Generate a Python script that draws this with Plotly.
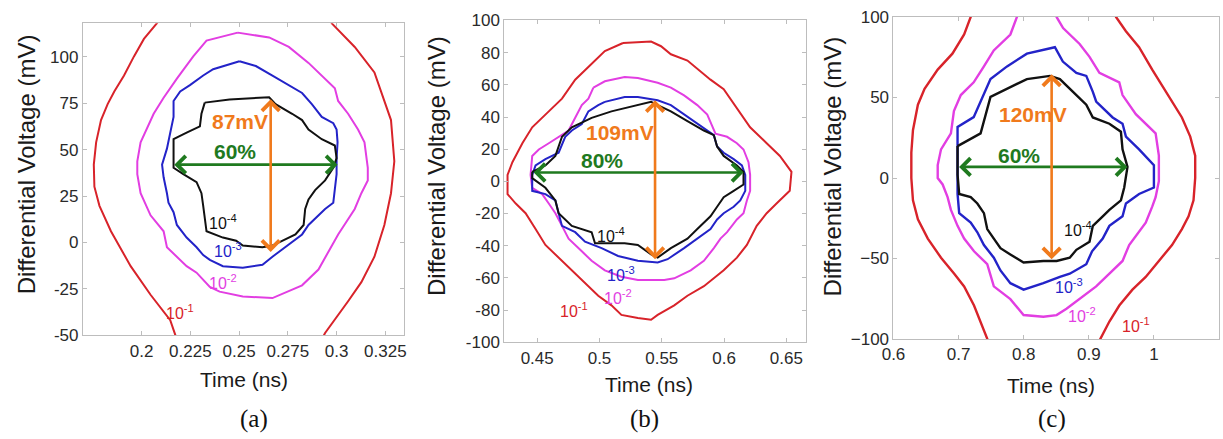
import plotly.graph_objects as go

# ---------------- data: panel (a) ----------------
A_RED_L_T = [0.2118, 0.2079, 0.2012, 0.1961, 0.1910, 0.1860, 0.1826, 0.1792, 0.1767, 0.1755, 0.1758, 0.1784, 0.1843, 0.1944, 0.2046, 0.2147, 0.2164, 0.2180]
A_RED_L_V = [124, 118.1, 109.6, 100.2, 89.9, 81.3, 74.5, 65.9, 53.9, 41.9, 30.0, 19.7, 6.0, -12.8, -28.2, -41.9, -47.1, -52]
A_RED_R_T = [0.2960, 0.2975, 0.3093, 0.3194, 0.3279, 0.3296, 0.3279, 0.3245, 0.3194, 0.3127, 0.3059, 0.2991, 0.2941, 0.2925]
A_RED_R_V = [124, 118.0, 105.3, 91.6, 65.9, 43.7, 26.5, 9.4, -7.7, -21.4, -31.7, -41.9, -48.8, -52]
A_MAG_T = [0.2493, 0.2654, 0.2755, 0.2856, 0.2991, 0.3008, 0.3059, 0.3110, 0.3143, 0.3160, 0.3160, 0.3127, 0.3093, 0.3008, 0.2907, 0.2823, 0.2671, 0.2519, 0.2400, 0.2350, 0.2282, 0.2231, 0.2130, 0.2113, 0.2046, 0.1995, 0.1978, 0.1978, 0.1995, 0.2062, 0.2113, 0.2181, 0.2265, 0.2333, 0.2493]
A_MAG_V = [113.0, 110.4, 105.3, 96.7, 83.0, 76.2, 69.3, 60.8, 53.9, 40.2, 33.4, 26.5, 18.0, 4.3, -14.6, -23.1, -30.0, -29.1, -26.5, -24.0, -16.3, -12.8, -2.6, 6.0, 14.6, 26.5, 36.8, 43.7, 53.9, 69.3, 77.9, 88.2, 100.2, 108.7, 113.0]
A_BLU_T = [0.2502, 0.2586, 0.2671, 0.2755, 0.2823, 0.2873, 0.2924, 0.2983, 0.3000, 0.3005, 0.3000, 0.3000, 0.2991, 0.2983, 0.2941, 0.2907, 0.2856, 0.2823, 0.2755, 0.2671, 0.2620, 0.2519, 0.2417, 0.2350, 0.2316, 0.2282, 0.2231, 0.2181, 0.2164, 0.2138, 0.2130, 0.2113, 0.2105, 0.2130, 0.2147, 0.2164, 0.2164, 0.2198, 0.2248, 0.2316, 0.2367, 0.2417, 0.2502]
A_BLU_V = [97.6, 95.0, 89.9, 84.7, 80.5, 74.5, 67.6, 64.2, 60.8, 53.9, 45.4, 36.8, 30.0, 21.4, 18.0, 14.6, 9.4, 4.3, -0.9, -7.7, -12.0, -13.7, -12.8, -9.4, -6.8, -2.6, 2.6, 9.4, 16.3, 21.4, 26.5, 35.1, 41.9, 50.5, 59.1, 67.6, 76.2, 81.3, 84.7, 89.9, 93.3, 95.0, 97.6]
A_BLK_T = [0.2324, 0.2451, 0.2654, 0.2687, 0.2772, 0.2823, 0.2856, 0.2924, 0.2991, 0.3000, 0.2983, 0.2941, 0.2890, 0.2856, 0.2839, 0.2831, 0.2789, 0.2721, 0.2671, 0.2620, 0.2519, 0.2485, 0.2417, 0.2333, 0.2324, 0.2316, 0.2307, 0.2282, 0.2214, 0.2164, 0.2164, 0.2164, 0.2231, 0.2299, 0.2307, 0.2324]
A_BLK_V = [75.3, 77.0, 78.2, 74.5, 69.3, 65.9, 60.8, 55.6, 52.2, 45.4, 40.2, 33.4, 28.2, 23.1, 18.0, 9.4, 4.3, 0.9, -1.7, -2.6, -1.7, 0.9, 2.6, 6.0, 14.6, 19.7, 26.5, 32.5, 36.8, 40.2, 47.1, 55.6, 59.1, 62.5, 69.3, 75.3]
A_TIME_TICKS = [0.2, 0.225, 0.25, 0.275, 0.3, 0.325]
A_TIME_LABELS = ["0.2", "0.225", "0.25", "0.275", "0.3", "0.325"]
A_VOLT_TICKS = [-50, -25, 0, 25, 50, 75, 100]
A_VOLT_LABELS = ["-50", "-25", "0", "25", "50", "75", "100"]
A_WIDTH = [0.2160, 0.3005, 41.9]      # t_start, t_end, v
A_HEIGHT = [0.2662, 77.9, -5.1]       # t, v_top, v_bottom

# ---------------- data: panel (b) ----------------
B_RED_T = [0.5189, 0.5414, 0.5494, 0.5573, 0.5706, 0.5785, 0.5891, 0.5997, 0.6103, 0.6209, 0.6342, 0.6448, 0.6541, 0.6527, 0.6421, 0.6342, 0.6262, 0.6183, 0.6103, 0.5997, 0.5838, 0.5706, 0.5600, 0.5467, 0.5414, 0.5308, 0.5176, 0.5096, 0.4990, 0.4884, 0.4778, 0.4672, 0.4566, 0.4487, 0.4407, 0.4328, 0.4262, 0.4262, 0.4301, 0.4381, 0.4460, 0.4593, 0.4699, 0.4805, 0.4937, 0.5043, 0.5189]
B_RED_V = [86.0, 86.9, 84.0, 79.0, 75.1, 70.1, 63.2, 57.3, 45.4, 33.6, 23.7, 15.8, 5.9, -5.9, -13.8, -19.8, -27.7, -39.5, -47.4, -55.3, -65.2, -71.1, -77.1, -83.0, -86.0, -85.0, -83.0, -77.1, -71.1, -63.2, -55.3, -47.4, -39.5, -29.6, -19.8, -13.8, -7.9, 4.0, 11.9, 23.7, 33.6, 43.5, 51.4, 63.2, 73.1, 81.0, 86.0]
B_MAG_T = [0.4951, 0.5043, 0.5202, 0.5308, 0.5467, 0.5573, 0.5679, 0.5785, 0.5865, 0.5931, 0.6024, 0.6103, 0.6156, 0.6196, 0.6209, 0.6209, 0.6183, 0.6156, 0.6103, 0.6024, 0.5971, 0.5918, 0.5838, 0.5732, 0.5600, 0.5520, 0.5308, 0.5176, 0.5043, 0.4937, 0.4858, 0.4805, 0.4752, 0.4699, 0.4646, 0.4593, 0.4540, 0.4460, 0.4447, 0.4460, 0.4513, 0.4593, 0.4672, 0.4752, 0.4805, 0.4858, 0.4911, 0.4951]
B_MAG_V = [58.3, 62.2, 64.8, 64.2, 61.3, 58.3, 53.4, 47.4, 41.5, 29.6, 27.7, 23.7, 19.8, 11.9, 4.0, -5.9, -11.9, -19.8, -23.7, -31.6, -35.6, -41.5, -49.4, -55.3, -60.3, -61.3, -61.3, -59.3, -55.3, -49.4, -43.5, -39.5, -35.6, -27.7, -19.8, -13.8, -7.9, -4.0, 4.0, 15.8, 19.8, 23.7, 27.7, 31.6, 39.5, 47.4, 51.4, 58.3]
B_BLU_T = [0.5043, 0.5096, 0.5202, 0.5308, 0.5467, 0.5573, 0.5679, 0.5785, 0.5918, 0.5944, 0.5997, 0.6077, 0.6143, 0.6170, 0.6170, 0.6130, 0.6077, 0.5997, 0.5944, 0.5891, 0.5785, 0.5679, 0.5547, 0.5467, 0.5308, 0.5149, 0.5017, 0.4884, 0.4805, 0.4699, 0.4672, 0.4646, 0.4566, 0.4460, 0.4460, 0.4487, 0.4566, 0.4672, 0.4725, 0.4778, 0.4858, 0.4911, 0.4990, 0.5043]
B_BLU_V = [49.4, 50.4, 52.4, 52.4, 50.4, 47.4, 41.5, 35.6, 28.7, 21.7, 17.8, 13.8, 9.9, 4.0, -5.9, -11.9, -15.8, -19.8, -23.7, -29.6, -35.6, -41.5, -48.4, -50.4, -49.4, -46.4, -41.5, -37.5, -31.6, -27.7, -19.8, -11.9, -7.9, -5.9, 4.0, 9.9, 13.8, 17.8, 27.7, 31.6, 35.6, 43.5, 47.4, 49.4]
B_BLK_T = [0.4460, 0.4566, 0.4646, 0.4699, 0.4778, 0.4937, 0.5096, 0.5255, 0.5414, 0.5467, 0.5573, 0.5706, 0.5838, 0.5918, 0.5944, 0.5997, 0.6103, 0.6156, 0.6156, 0.6077, 0.5997, 0.5944, 0.5891, 0.5785, 0.5706, 0.5573, 0.5467, 0.5414, 0.5308, 0.5202, 0.5096, 0.4964, 0.4937, 0.4778, 0.4672, 0.4646, 0.4566, 0.4460, 0.4460]
B_BLK_V = [5.9, 9.9, 15.8, 27.7, 33.6, 39.5, 43.5, 46.4, 49.4, 47.4, 43.5, 37.5, 31.6, 28.7, 21.7, 15.8, 9.9, 5.9, -2.0, -5.9, -9.9, -15.8, -21.7, -29.6, -35.6, -41.5, -47.4, -45.4, -39.5, -38.5, -38.5, -38.5, -31.6, -27.7, -19.8, -11.9, -4.0, 2.0, 5.9]
B_TIME_TICKS = [0.45, 0.5, 0.55, 0.6, 0.65]
B_TIME_LABELS = ["0.45", "0.5", "0.55", "0.6", "0.65"]
B_VOLT_TICKS = [-100, -80, -60, -40, -20, 0, 20, 40, 60, 80, 100]
B_VOLT_LABELS = ["-100", "-80", "-60", "-40", "-20", "0", "20", "40", "60", "80", "100"]
B_WIDTH = [0.4460, 0.6156, 5.5]
B_HEIGHT = [0.5446, 51.4, -48.4]

# ---------------- data: panel (c) ----------------
C_RED_L_T = [0.7212, 0.7186, 0.7085, 0.6905, 0.6679, 0.6477, 0.6375, 0.6299, 0.6274, 0.6274, 0.6299, 0.6375, 0.6527, 0.6730, 0.6933, 0.7085, 0.7237, 0.7338, 0.7440, 0.7491]
C_RED_L_V = [105, 100, 89.1, 77.2, 67.3, 55.4, 45.5, 29.7, 15.8, 0, -13.9, -25.7, -37.6, -49.5, -59.4, -67.3, -79.2, -89.1, -100, -105]
C_RED_R_T = [0.9392, 0.9418, 0.9570, 0.9772, 0.9974, 1.0126, 1.0278, 1.0430, 1.0558, 1.0634, 1.0634, 1.0608, 1.0532, 1.0430, 1.0278, 1.0076, 0.9874, 0.9670, 0.9468, 0.9316, 0.9163, 0.9120]
C_RED_R_V = [105, 100, 91.1, 81.2, 67.3, 57.4, 47.5, 37.6, 25.7, 13.9, 0, -13.9, -23.8, -31.7, -41.6, -51.5, -61.4, -69.3, -79.2, -89.1, -101, -106]
C_MAG_T = [0.7922, 0.7896, 0.7795, 0.7540, 0.7389, 0.7232, 0.7034, 0.6928, 0.6882, 0.6730, 0.6679, 0.6679, 0.6755, 0.6831, 0.6882, 0.6984, 0.7085, 0.7237, 0.7440, 0.7541, 0.7795, 0.7998, 0.8302, 0.8505, 0.8657, 0.8859, 0.9113, 0.9316, 0.9518, 0.9620, 0.9772, 0.9874, 0.9974, 1.0026, 1.0076, 1.0076, 1.0026, 0.9874, 0.9722, 0.9518, 0.9468, 0.9163, 0.9011, 0.8859, 0.8605, 0.8505, 0.8479]
C_MAG_V = [105, 100, 89.1, 79.2, 69.3, 59.4, 51.5, 41.6, 27.7, 17.8, 8.0, 0, -4.0, -11.9, -19.8, -29.7, -37.6, -45.5, -53.5, -67.3, -75.2, -85.1, -86.1, -85.1, -81.2, -75.2, -67.3, -59.4, -51.5, -41.6, -33.7, -27.7, -17.8, -11.9, -2.0, 13.9, 27.7, 33.7, 39.6, 51.5, 59.4, 65.3, 75.2, 83.2, 93.1, 100, 105]
C_BLU_T = [0.6984, 0.6984, 0.7232, 0.7490, 0.7744, 0.8049, 0.8479, 0.8601, 0.8809, 0.8961, 0.9062, 0.9113, 0.9366, 0.9518, 0.9570, 0.9772, 1.0000, 1.0000, 0.9772, 0.9570, 0.9518, 0.9316, 0.9214, 0.9050, 0.8961, 0.8707, 0.8555, 0.8302, 0.7998, 0.7795, 0.7643, 0.7541, 0.7389, 0.7288, 0.7186, 0.7009, 0.6984, 0.6984]
C_BLU_V = [2.2, 31.7, 37.8, 61.4, 69.3, 77.2, 81.2, 72.3, 65.3, 63.4, 53.5, 47.5, 37.6, 33.7, 25.7, 17.8, 7.9, -5.9, -9.9, -15.8, -23.8, -29.7, -37.6, -45.5, -53.5, -59.4, -61.4, -65.3, -69.3, -65.3, -57.4, -49.5, -41.6, -33.7, -27.7, -21.8, -9.9, 2.2]
C_BLK_T = [0.6984, 0.7338, 0.7490, 0.7744, 0.8049, 0.8403, 0.8555, 0.8809, 0.8961, 0.9062, 0.9316, 0.9493, 0.9518, 0.9594, 0.9544, 0.9493, 0.9316, 0.9214, 0.9062, 0.9011, 0.8809, 0.8707, 0.8505, 0.8302, 0.7998, 0.7795, 0.7643, 0.7541, 0.7440, 0.7389, 0.7288, 0.7186, 0.7009, 0.6984, 0.6984]
C_BLK_V = [19.8, 27.7, 50.4, 55.4, 61.4, 63.4, 61.4, 51.5, 45.5, 37.6, 33.7, 28.7, 17.8, 6.9, -5.9, -13.9, -19.8, -23.8, -29.7, -39.6, -44.6, -49.5, -51.5, -51.5, -52.5, -47.5, -43.6, -37.6, -31.7, -21.8, -15.8, -11.9, -9.9, 2.0, 19.8]
C_TIME_TICKS = [0.6, 0.7, 0.8, 0.9, 1.0, 1.1]
C_TIME_LABELS = ["0.6", "0.7", "0.8", "0.9", "1", "1.1"]
C_VOLT_TICKS = [-100, -50, 0, 50, 100]
C_VOLT_LABELS = ["\u2212100", "\u221250", "0", "50", "100"]
C_WIDTH = [0.6984, 0.9594, 6.9]
C_HEIGHT = [0.8429, 65.3, -50.5]

# text labels
LEVEL_TEXT = ["10<sup>-4</sup>", "10<sup>-3</sup>", "10<sup>-2</sup>", "10<sup>-1</sup>"]
A_LEVEL_POS = [(0.2417, 11.1), (0.2443, -4.3), (0.2417, -21.4), (0.2198, -37.7)]
B_LEVEL_POS = [(0.5096, -33.6), (0.5176, -57.3), (0.5149, -72.1), (0.4792, -80.0)]
C_LEVEL_POS = [(0.8834, -31.7), (0.8700, -67.3), (0.8900, -85.1), (0.9722, -91.5)]
A_EYE_TEXT = [("87mV", 0.2505, 65.2), ("60%", 0.2481, 49.1)]
B_EYE_TEXT = [("109mV", 0.5168, 30.6), ("80%", 0.5022, 12.8)]
C_EYE_TEXT = [("120mV", 0.8144, 39.6), ("60%", 0.7932, 13.9)]
PANEL_LABELS = ["(a)", "(b)", "(c)"]

# ---------------- styling ----------------
W, H = 1223, 439
RED, MAG, BLUE, BLK = "#d8232a", "#e23ee2", "#2323c8", "#111111"
GRN, ORG = "#1f7a1f", "#f07a1c"
LEVEL_COLORS = [BLK, BLUE, MAG, RED]
SANS = "Liberation Sans, Arial, sans-serif"
SERIF = "Liberation Serif, Times New Roman, serif"
AXC = "#bdbdbd"

fig = go.Figure()

def line(t, v, color, width, xa, ya):
    fig.add_trace(go.Scatter(x=t, y=v, mode="lines", line=dict(color=color, width=width),
                             xaxis=xa, yaxis=ya, showlegend=False, hoverinfo="skip"))

panels = [
    dict(xa="x", ya="y", lw=2.0,
         curves=[(A_RED_L_T, A_RED_L_V, RED), (A_RED_R_T, A_RED_R_V, RED), (A_MAG_T, A_MAG_V, MAG),
                 (A_BLU_T, A_BLU_V, BLUE), (A_BLK_T, A_BLK_V, BLK)],
         width=A_WIDTH, height=A_HEIGHT, levels=A_LEVEL_POS, eye=A_EYE_TEXT),
    dict(xa="x2", ya="y2", lw=2.0,
         curves=[(B_RED_T, B_RED_V, RED), (B_MAG_T, B_MAG_V, MAG), (B_BLU_T, B_BLU_V, BLUE), (B_BLK_T, B_BLK_V, BLK)],
         width=B_WIDTH, height=B_HEIGHT, levels=B_LEVEL_POS, eye=B_EYE_TEXT),
    dict(xa="x3", ya="y3", lw=2.4,
         curves=[(C_RED_L_T, C_RED_L_V, RED), (C_RED_R_T, C_RED_R_V, RED), (C_MAG_T, C_MAG_V, MAG),
                 (C_BLU_T, C_BLU_V, BLUE), (C_BLK_T, C_BLK_V, BLK)],
         width=C_WIDTH, height=C_HEIGHT, levels=C_LEVEL_POS, eye=C_EYE_TEXT),
]

annotations = []
for p in panels:
    for t, v, c in p["curves"]:
        line(t, v, c, p["lw"], p["xa"], p["ya"])
    xa, ya = p["xa"], p["ya"]
    t0, t1, vv = p["width"]
    annotations.append(dict(xref=xa, yref=ya, axref=xa, ayref=ya, x=t1, y=vv, ax=t0, ay=vv, text="",
                            showarrow=True, arrowhead=4, startarrowhead=4, arrowside="end+start",
                            arrowwidth=2.6, arrowsize=1.3, startarrowsize=1.3, arrowcolor=GRN))
    tt, v0, v1 = p["height"]
    annotations.append(dict(xref=xa, yref=ya, axref=xa, ayref=ya, x=tt, y=v1, ax=tt, ay=v0, text="",
                            showarrow=True, arrowhead=4, startarrowhead=4, arrowside="end+start",
                            arrowwidth=2.6, arrowsize=1.3, startarrowsize=1.3, arrowcolor=ORG))
    for (txt, t, v), col in zip(p["eye"], [ORG, GRN]):
        annotations.append(dict(xref=xa, yref=ya, x=t, y=v, text="<b>%s</b>" % txt, showarrow=False,
                                xanchor="center", yanchor="middle",
                                font=dict(family=SANS, size=21, color=col)))
    for txt, (t, v), col in zip(LEVEL_TEXT, p["levels"], LEVEL_COLORS):
        annotations.append(dict(xref=xa, yref=ya, x=t, y=v, text=txt, showarrow=False,
                                xanchor="center", yanchor="middle",
                                font=dict(family=SANS, size=16, color=col)))

# axis titles & panel labels (paper coordinates from pixel positions)
YT = [(15, 162.5), (430, 164), (830, 164)]
XT = [(235, 387), (644, 393), (1051, 394)]
PL = [(245, 429), (640, 429), (1052, 429)]
for (yx, yy), (xx, xy), (lx, ly), lab in zip(YT, XT, PL, PANEL_LABELS):
    annotations.append(dict(xref="paper", yref="paper", x=yx / W, y=1 - yy / H, text="Differential Voltage (mV)",
                            textangle=-90, showarrow=False, xanchor="center", yanchor="middle",
                            font=dict(family=SANS, size=24, color="#1a1a1a")))
    annotations.append(dict(xref="paper", yref="paper", x=xx / W, y=1 - xy / H, text="Time (ns)",
                            showarrow=False, xanchor="center", yanchor="middle",
                            font=dict(family=SANS, size=21, color="#1a1a1a")))
    annotations.append(dict(xref="paper", yref="paper", x=lx / W, y=1 - ly / H, text=lab,
                            showarrow=False, xanchor="center", yanchor="middle",
                            font=dict(family=SERIF, size=25, color="#111")))

def axis(domain, rng, tv, tt, anchor):
    return dict(domain=domain, range=rng, tickvals=tv, ticktext=tt, anchor=anchor,
                showline=True, linecolor=AXC, linewidth=1, mirror="ticks", ticks="inside",
                ticklen=4, tickcolor=AXC, showgrid=False, zeroline=False,
                tickfont=dict(family=SANS, size=17, color="#2a2a2a"))

fig.update_layout(
    width=W, height=H, margin=dict(l=0, r=0, t=0, b=0),
    paper_bgcolor="white", plot_bgcolor="white", showlegend=False,
    xaxis=axis([71.7 / W, 397 / W], [0.1699, 0.3348], A_TIME_TICKS, A_TIME_LABELS, "y"),
    yaxis=axis([1 - 341 / H, 1 - 15 / H], [-50, 118], A_VOLT_TICKS, A_VOLT_LABELS, "x"),
    xaxis2=axis([498 / W, 803 / W], [0.4236, 0.6656], B_TIME_TICKS, B_TIME_LABELS, "y2"),
    yaxis2=axis([1 - 348.3 / H, 1 - 12 / H], [-100, 100], B_VOLT_TICKS, B_VOLT_LABELS, "x2"),
    xaxis3=axis([891.7 / W, 1221 / W], [0.6, 1.1], C_TIME_TICKS, C_TIME_LABELS, "y3"),
    yaxis3=axis([1 - 345 / H, 1 - 8.3 / H], [-100, 100], C_VOLT_TICKS, C_VOLT_LABELS, "x3"),
    annotations=annotations,
)

fig.write_html("out.html")
